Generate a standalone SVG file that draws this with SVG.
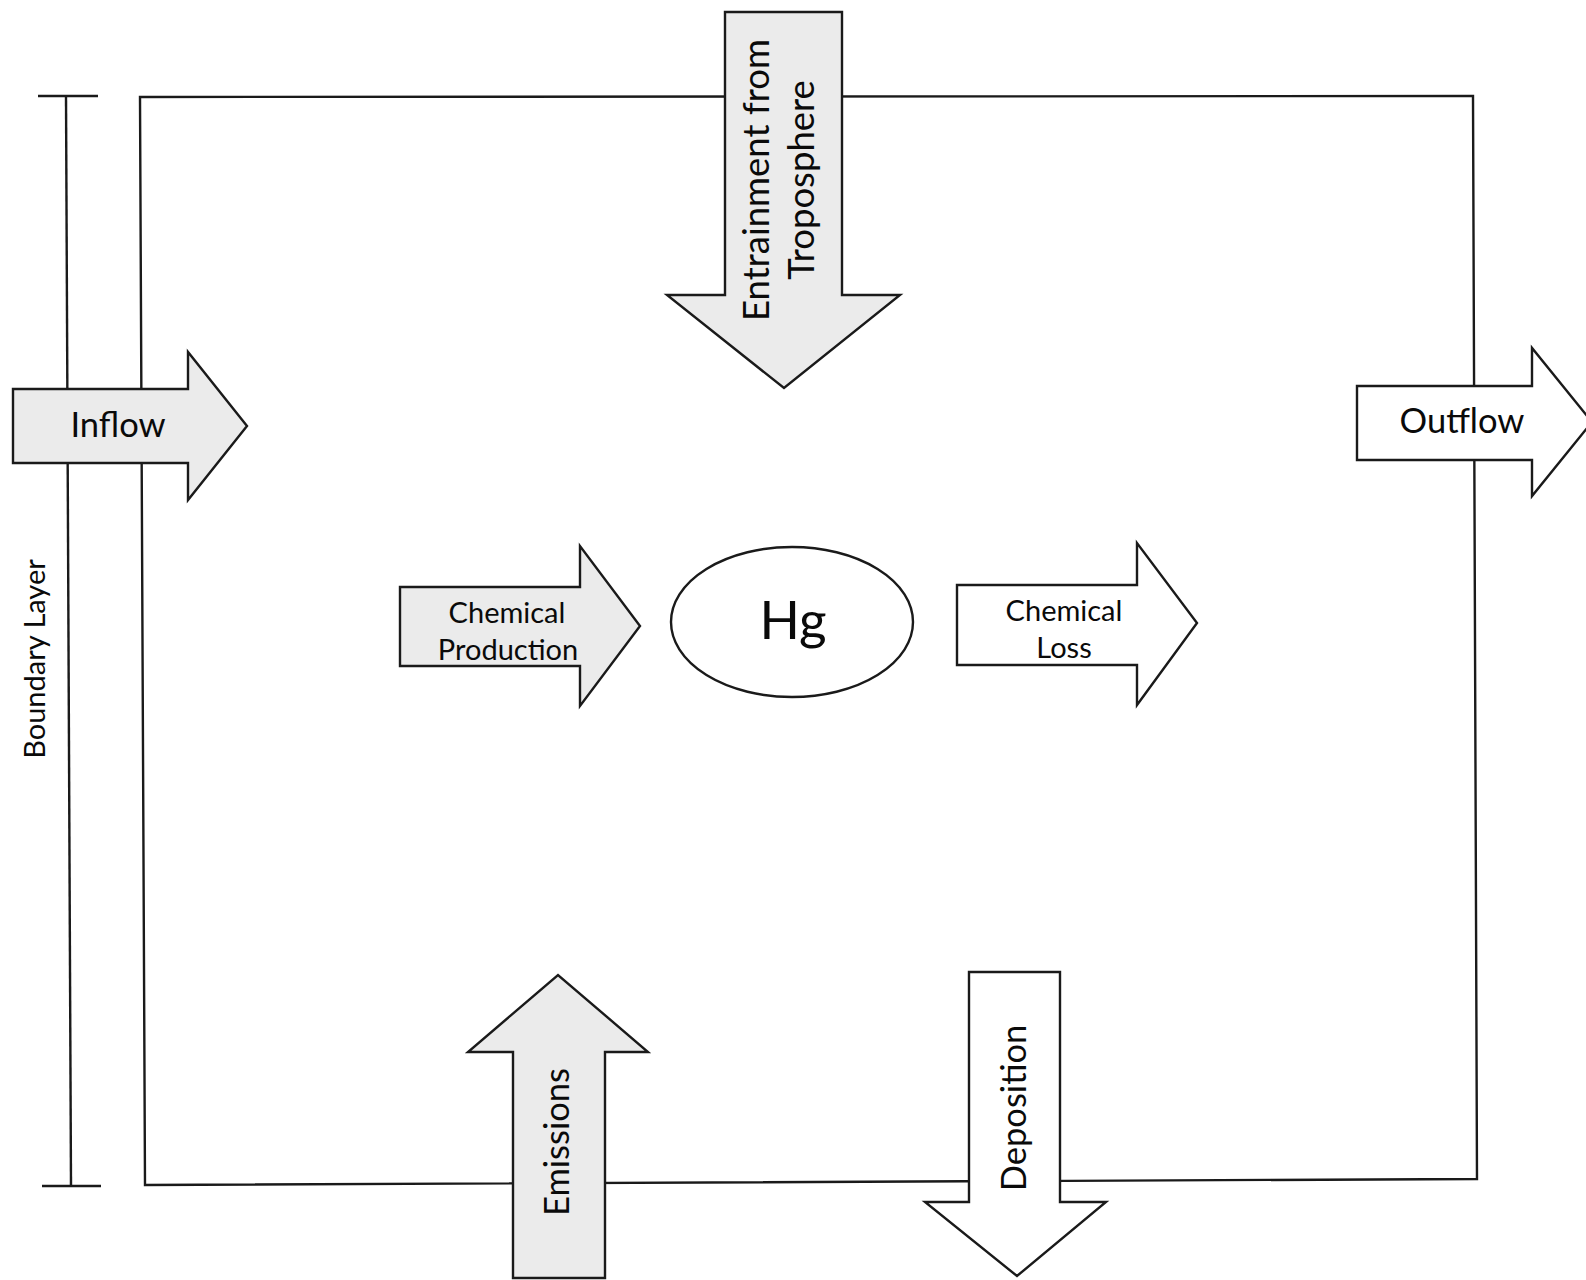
<svg xmlns="http://www.w3.org/2000/svg" width="1586" height="1280" viewBox="0 0 1586 1280">
<style>
.ln{fill:none;stroke:#1a1a1a;stroke-width:2.4}
.ag{fill:#ebebeb;stroke:#1a1a1a;stroke-width:2.4;stroke-linejoin:miter}
.aw{fill:#ffffff;stroke:#1a1a1a;stroke-width:2.4;stroke-linejoin:miter}
.t{font-family:Lato,"Open Sans","Liberation Sans",sans-serif;fill:#0a0a0a;text-anchor:middle}
.big{font-size:34.5px}
.ent{font-size:36.5px}
.mid{font-size:29px}
</style>
<rect width="1586" height="1280" fill="#ffffff"/>
<g id="boundary-layer-scale">
<line class="ln" x1="66" y1="96" x2="71" y2="1186"/>
<line class="ln" x1="38" y1="96" x2="98" y2="96"/>
<line class="ln" x1="42" y1="1186" x2="101" y2="1186"/>
<text class="t mid" transform="translate(45,659) rotate(-90)">Boundary Layer</text>
</g>
<g id="box">
<polygon class="ln" points="140,97 1473,96 1477,1179 145,1185"/>
</g>
<g id="connectors">
<g id="inflow">
<polygon class="ag" points="13,389 188,389 188,352 247,426 188,500 188,463 13,463"/>
<text class="t big" x="118" y="437">Inflow</text>
</g>
<g id="outflow">
<polygon class="aw" points="1357,386 1532,386 1532,348 1592,422 1532,496 1532,460 1357,460"/>
<text class="t big" x="1462" y="433">Outflow</text>
</g>
<g id="entrainment">
<polygon class="ag" points="725,12 842,12 842,295 900,295 784,388 667,295 725,295"/>
<text class="t ent" transform="translate(769,180) rotate(-90)">Entrainment from</text>
<text class="t ent" transform="translate(814,180) rotate(-90)">Troposphere</text>
</g>
<g id="emissions">
<polygon class="ag" points="513,1278 513,1052 468,1052 558,975 648,1052 605,1052 605,1278"/>
<text class="t big" transform="translate(569,1142) rotate(-90)">Emissions</text>
</g>
<g id="deposition">
<polygon class="aw" points="969,972 1060,972 1060,1202 1106,1202 1017,1276 925,1202 969,1202"/>
<text class="t big" transform="translate(1026,1108) rotate(-90)">Deposition</text>
</g>
<g id="chemical-production">
<polygon class="ag" points="400,587 580,587 580,546 640,626 580,706 580,666 400,666"/>
<text class="t mid" x="507" y="623">Chemical</text>
<text class="t mid" x="508" y="660">Production</text>
</g>
<g id="chemical-loss">
<polygon class="aw" points="957,585 1137,585 1137,543 1197,623 1137,705 1137,665 957,665"/>
<text class="t mid" x="1064" y="621">Chemical</text>
<text class="t mid" x="1064" y="658">Loss</text>
</g>
</g>
<g id="hg">
<ellipse class="aw" cx="792" cy="622" rx="121" ry="75"/>
<text class="t" style="font-size:53px" x="793" y="639">Hg</text>
</g>
</svg>
